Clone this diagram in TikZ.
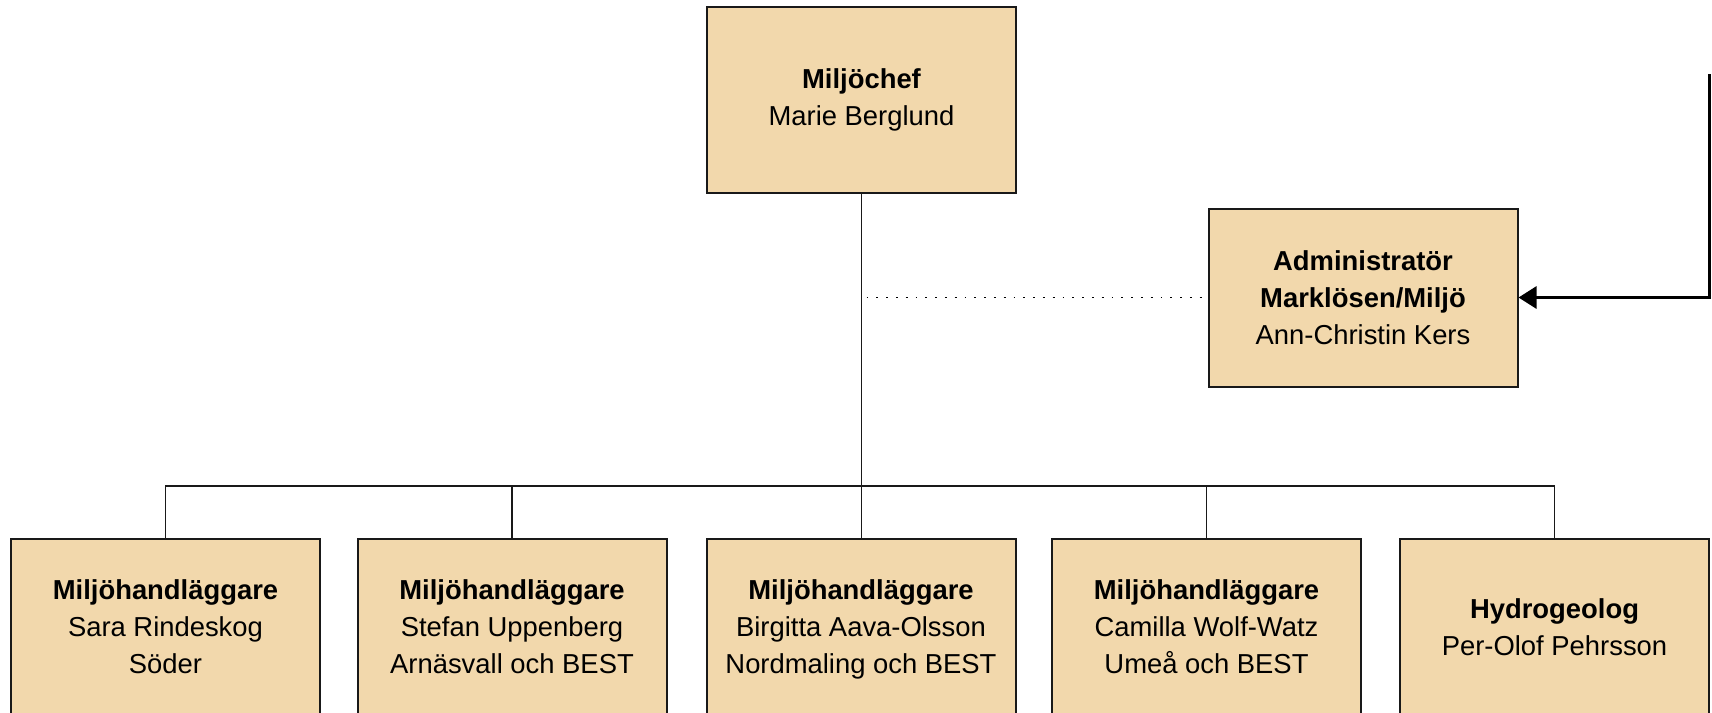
\documentclass[tikz,border=0pt]{standalone}
\usepackage{fontspec}
\setmainfont{Liberation Sans}
\usetikzlibrary{arrows.meta}
\definecolor{boxfill}{RGB}{242,216,172}
\definecolor{boxline}{RGB}{25,25,25}
\begin{document}
\begin{tikzpicture}[x=0.5pt,y=-0.5pt,
  orgbox/.style={draw=boxline, line width=1pt, fill=boxfill, inner sep=0pt,
    minimum width=154.5pt, minimum height=88pt, align=center,
    font=\fontsize{13.7}{18.5}\selectfont},
  link/.style={draw=boxline, line width=0.9pt},
  dotlink/.style={draw=black, line width=0.9pt, dash pattern=on 0.9pt off 4pt},
  arrowlink/.style={draw=black, line width=1.5pt, -{Triangle[length=9pt,width=11pt]}}
]
\useasboundingbox (0,0) rectangle (1712,712);
\begin{scope}
\clip (0,0) rectangle (1712,712);
% top
\node[orgbox, minimum height=93pt] (chef) at (861.5,100) {\textbf{Miljöchef}\\Marie Berglund};
\node[orgbox, minimum height=89pt] (admin) at (1363,297.5)
  {\textbf{Administratör}\\\textbf{Marklösen/Miljö}\\Ann-Christin Kers};
% bottom row
\node[orgbox] (b1) at (165.5,627) {\textbf{Miljöhandläggare}\\Sara Rindeskog\\Söder};
\node[orgbox] (b2) at (512,627) {\textbf{Miljöhandläggare}\\Stefan Uppenberg\\Arnäsvall och BEST};
\node[orgbox] (b3) at (861,627) {\textbf{Miljöhandläggare}\\Birgitta Aava-Olsson\\\smash{Nordmaling och BEST}};
\node[orgbox] (b4) at (1206.5,627) {\textbf{Miljöhandläggare}\\Camilla Wolf-Watz\\Umeå och BEST};
\node[orgbox] (b5) at (1554.5,627) {\textbf{Hydrogeolog}\\Per-Olof Pehrsson};
% connectors
\coordinate (bus) at (861.5,486);
\draw[link] (chef.south) -- (chef.south |- b1.north);
\draw[link] (b1.north) -- (b1.north |- bus) -- (b5.north |- bus) -- (b5.north);
\draw[link] (b2.north) -- (b2.north |- bus);
\draw[link] (b4.north) -- (b4.north |- bus);
\draw[dotlink, shorten <=2.5pt, shorten >=1pt] (chef.south |- admin.west) -- (admin.west);
\coordinate (ext) at (1709.5,74);
\draw[arrowlink] (ext) -- (ext |- admin.east) -- (admin.east);
\end{scope}
\end{tikzpicture}
\end{document}
